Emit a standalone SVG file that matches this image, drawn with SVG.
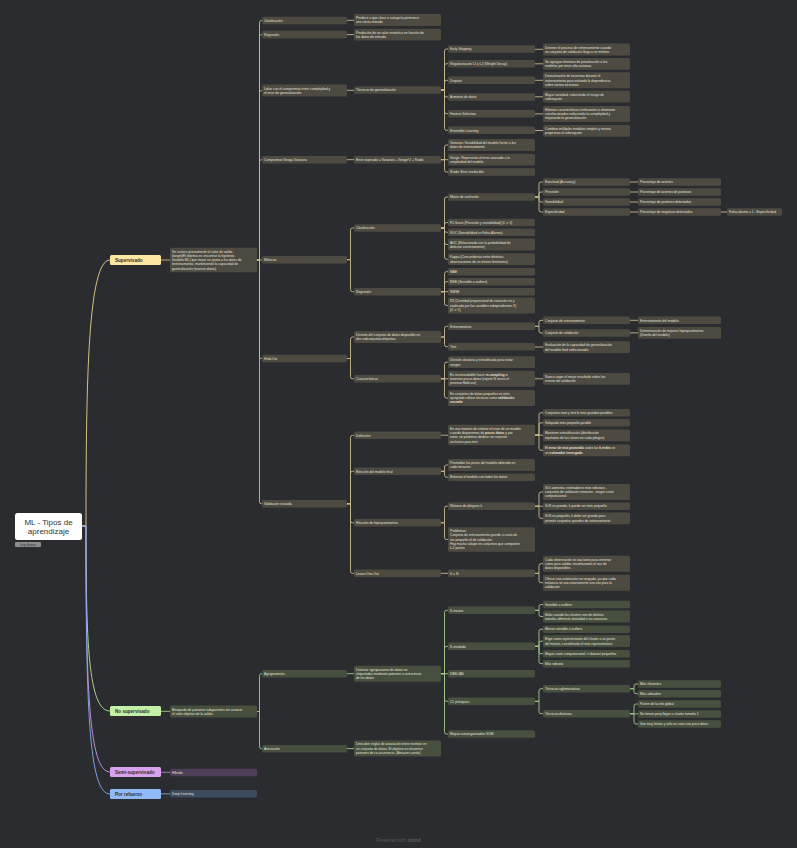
<svg xmlns="http://www.w3.org/2000/svg" width="797" height="848" viewBox="0 0 797 848">
<style>
.t{font-family:"Liberation Sans",Arial,sans-serif;font-size:3.3px;fill:#e7e3d9}
.b{font-weight:bold}
.m{font-family:"Liberation Sans",Arial,sans-serif;font-size:4.6px;font-weight:bold;fill:#2e2e2e}
.c path{fill:none;stroke-width:0.9}
.ys path{stroke:#c9b98b}
.gs path{stroke:#9fc889}
.ny{fill:#4d4a41}
.ng{fill:#47503f}
.np{fill:#4e3f58}
.nb{fill:#3e4a5e}
</style>
<rect width="797" height="848" fill="#2b2c30"/>
<g id="connectors" class="c">
<path d="M82 526H86C86 380 88 260 110 260" stroke="#e9d48f"/>
<path d="M82 526H86C86 640 88 711 110 711" stroke="#b5e39a"/>
<path d="M82 526H86C86 680 88 772 110 772" stroke="#cf95e6"/>
<path d="M82 526H86C86 700 88 794 110 794" stroke="#86acf0"/>
<g class="ys">
<path d="M161 260H170"/>
<path d="M257 260H259.5V22.5Q259.5 20.5 261.5 20.5H262"/>
<path d="M257 260H259.5V36.6Q259.5 34.6 261.5 34.6H262"/>
<path d="M257 260H259.5V92.5Q259.5 90.5 261.5 90.5H262"/>
<path d="M257 260H259.5V161.7Q259.5 159.7 261.5 159.7H262"/>
<path d="M257 260H262"/>
<path d="M257 260H259.5V356.5Q259.5 358.5 261.5 358.5H262"/>
<path d="M257 260H259.5V501.8Q259.5 503.8 261.5 503.8H262"/>
<path d="M347 20.3H354"/>
<path d="M347 34.6H354"/>
<path d="M347 90.3H354"/>
<path d="M347 159.7H354"/>
<path d="M347 259.7H350.5V230Q350.5 228 352.5 228H354"/>
<path d="M347 259.7H350.5V289.7Q350.5 291.7 352.5 291.7H354"/>
<path d="M347 358.5H350.5V339Q350.5 337 352.5 337H354"/>
<path d="M347 358.5H350.5V376.8Q350.5 378.8 352.5 378.8H354"/>
<path d="M347 503.8H350.5V437.3Q350.5 435.3 352.5 435.3H354"/>
<path d="M347 503.8H350.5V473.3Q350.5 471.3 352.5 471.3H354"/>
<path d="M347 503.8H350.5V520.8Q350.5 522.8 352.5 522.8H354"/>
<path d="M347 503.8H350.5V571.3Q350.5 573.3 352.5 573.3H354"/>
<path d="M441 90H444.5V51Q444.5 49 446.5 49H448"/>
<path d="M441 90H444.5V65.7Q444.5 63.7 446.5 63.7H448"/>
<path d="M441 90H444.5V82.3Q444.5 80.3 446.5 80.3H448"/>
<path d="M441 90H444.5V95Q444.5 97 446.5 97H448"/>
<path d="M441 90H444.5V111.7Q444.5 113.7 446.5 113.7H448"/>
<path d="M441 90H444.5V128.3Q444.5 130.3 446.5 130.3H448"/>
<path d="M441 159.7H444.5V147Q444.5 145 446.5 145H448"/>
<path d="M441 159.7H448"/>
<path d="M441 159.7H444.5V170Q444.5 172 446.5 172H448"/>
<path d="M441 228H444.5V199Q444.5 197 446.5 197H448"/>
<path d="M441 228H444.5V224.5Q444.5 222.5 446.5 222.5H448"/>
<path d="M441 228H444.5V230.3Q444.5 232.3 446.5 232.3H448"/>
<path d="M441 228H444.5V242.5Q444.5 244.5 446.5 244.5H448"/>
<path d="M441 228H444.5V257.2Q444.5 259.2 446.5 259.2H448"/>
<path d="M441 291.7H444.5V273.7Q444.5 271.7 446.5 271.7H448"/>
<path d="M441 291.7H444.5V283.7Q444.5 281.7 446.5 281.7H448"/>
<path d="M441 291.7H448"/>
<path d="M441 291.7H444.5V303.5Q444.5 305.5 446.5 305.5H448"/>
<path d="M441 337H444.5V328.3Q444.5 326.3 446.5 326.3H448"/>
<path d="M441 337H444.5V344.7Q444.5 346.7 446.5 346.7H448"/>
<path d="M441 378.8H444.5V364.2Q444.5 362.2 446.5 362.2H448"/>
<path d="M441 378.8H448"/>
<path d="M441 378.8H444.5V396Q444.5 398 446.5 398H448"/>
<path d="M441 435.2H448"/>
<path d="M441 471.3H444.5V467Q444.5 465 446.5 465H448"/>
<path d="M441 471.3H444.5V475.2Q444.5 477.2 446.5 477.2H448"/>
<path d="M441 522.8H444.5V508.2Q444.5 506.2 446.5 506.2H448"/>
<path d="M441 522.8H444.5V537.5Q444.5 539.5 446.5 539.5H448"/>
<path d="M441 573.3H448"/>
<path d="M535 49.3H543"/>
<path d="M535 63.8H543"/>
<path d="M535 80.3H543"/>
<path d="M535 96.8H543"/>
<path d="M535 113.9H543"/>
<path d="M535 130.5H543"/>
<path d="M535 197H539V184Q539 182 541 182H543"/>
<path d="M535 197H539V194Q539 192 541 192H543"/>
<path d="M535 197H539V200Q539 202 541 202H543"/>
<path d="M535 197H539V210Q539 212 541 212H543"/>
<path d="M535 326.3H539V322.3Q539 320.3 541 320.3H543"/>
<path d="M535 326.3H539V331Q539 333 541 333H543"/>
<path d="M535 347H543"/>
<path d="M535 378.8H543"/>
<path d="M535 435H539V414.8Q539 412.8 541 412.8H543"/>
<path d="M535 435H539V424.8Q539 422.8 541 422.8H543"/>
<path d="M535 435.2H543"/>
<path d="M535 435H539V448.3Q539 450.3 541 450.3H543"/>
<path d="M535 506.2H539V494Q539 492 541 492H543"/>
<path d="M535 506.2H543"/>
<path d="M535 506.2H539V516.3Q539 518.3 541 518.3H543"/>
<path d="M535 573.3H539V565.7Q539 563.7 541 563.7H543"/>
<path d="M535 573.3H539V580.7Q539 582.7 541 582.7H543"/>
<path d="M630 182H638"/>
<path d="M630 192H638"/>
<path d="M630 202H638"/>
<path d="M630 212H638"/>
<path d="M630 320.3H638"/>
<path d="M630 332.9H638"/>
<path d="M721 212H727"/>
</g>
<g class="gs">
<path d="M161 711.3H170"/>
<path d="M257 711.5H259.5V675.7Q259.5 673.7 261.5 673.7H262"/>
<path d="M257 711.5H259.5V746.7Q259.5 748.7 261.5 748.7H262"/>
<path d="M347 673.7H354"/>
<path d="M347 748.6H354"/>
<path d="M441 673.7H444.5V612.3Q444.5 610.3 446.5 610.3H448"/>
<path d="M441 673.7H444.5V648.3Q444.5 646.3 446.5 646.3H448"/>
<path d="M441 673.7H448"/>
<path d="M441 673.7H444.5V699.3Q444.5 701.3 446.5 701.3H448"/>
<path d="M441 673.7H444.5V732Q444.5 734 446.5 734H448"/>
<path d="M535 610.3H539V606.5Q539 604.5 541 604.5H543"/>
<path d="M535 610.3H539V614.5Q539 616.5 541 616.5H543"/>
<path d="M535 646.3H539V631.2Q539 629.2 541 629.2H543"/>
<path d="M535 646.3H539V643.2Q539 641.2 541 641.2H543"/>
<path d="M535 646.3H539V651.7Q539 653.7 541 653.7H543"/>
<path d="M535 646.3H539V661.7Q539 663.7 541 663.7H543"/>
<path d="M535 701.3H539V690.7Q539 688.7 541 688.7H543"/>
<path d="M535 701.3H539V711.7Q539 713.7 541 713.7H543"/>
<path d="M630 688.7H634V686Q634 684 636 684H638"/>
<path d="M630 688.7H634V691.7Q634 693.7 636 693.7H638"/>
<path d="M630 713.7H634V706Q634 704 636 704H638"/>
<path d="M630 713.9H638"/>
<path d="M630 713.7H634V722Q634 724 636 724H638"/>
</g>
<path d="M161 772.3H170" stroke="#b17fc6"/>
<path d="M161 793.9H170" stroke="#7c9fdc"/>
</g>

<g id="root">
<rect x="15" y="513" width="67" height="27" rx="2.5" fill="#ffffff"/>
<text x="48.5" y="524.5" text-anchor="middle" style="font-family:'Liberation Sans',Arial,sans-serif;font-size:8px;fill:#333">ML - Tipos de</text>
<text x="48.5" y="534" text-anchor="middle" style="font-family:'Liberation Sans',Arial,sans-serif;font-size:8px;fill:#333">aprendizaje</text>
</g>
<g id="root-tag">
<rect x="15" y="542" width="26" height="5" rx="1" fill="#8d8d8d"/>
<text x="28" y="545.6" text-anchor="middle" style="font-family:'Liberation Sans',Arial,sans-serif;font-size:2.6px;fill:#2e2e2e">Jorge Barbeta</text>
</g>

<g id="supervisado"><rect x="110" y="255" width="51" height="10" rx="1.5" fill="#fbe6a2"/><text class="m" x="115" y="261.7">Supervisado</text></g>
<g id="no-supervisado"><rect x="110" y="706" width="51" height="10" rx="1.5" fill="#c3f0a5"/><text class="m" x="115" y="712.7">No supervisado</text></g>
<g id="semi-supervisado"><rect x="110" y="767" width="51" height="10" rx="1.5" fill="#d7a1ee"/><text class="m" x="115" y="773.7">Semi-supervisado</text></g>
<g id="por-refuerzo"><rect x="110" y="789" width="51" height="10" rx="1.5" fill="#91b9f6"/><text class="m" x="115" y="795.7">Por refuerzo</text></g>

<!-- Supervisado subtree -->
<g id="s0"><rect class="ny" x="170" y="247.7" width="87" height="24.6" rx="1.5"/><text class="t"><tspan x="172" y="252.7">Se conoce previamente el valor de salida</tspan><tspan x="172" y="256.95">(target)El objetivo es encontrar la hipótesis</tspan><tspan x="172" y="261.2">(modelo ML) que mejor se ajusta a los datos de</tspan><tspan x="172" y="265.45">entrenamiento, manteniendo la capacidad de</tspan><tspan x="172" y="269.7">generalización (nuevos datos)</tspan></text></g>

<g id="s-clasificacion"><rect class="ny" x="262" y="16.7" width="85" height="7.6" rx="1.5"/><text class="t" x="264" y="21.7">Clasificación</text></g>
<g id="s-regresion"><rect class="ny" x="262" y="30.8" width="85" height="7.6" rx="1.5"/><text class="t" x="264" y="35.8">Regresión</text></g>
<g id="s-lidiar"><rect class="ny" x="262" y="84.6" width="85" height="11.8" rx="1.5"/><text class="t"><tspan x="264" y="89.6">Lidiar con el compromiso entre complejidad y</tspan><tspan x="264" y="93.8">el error de generalización</tspan></text></g>
<g id="s-sesgo-varianza"><rect class="ny" x="262" y="155.9" width="85" height="7.6" rx="1.5"/><text class="t" x="264" y="160.9">Compromiso Sesgo-Varianza</text></g>
<g id="s-metricas"><rect class="ny" x="262" y="255.9" width="85" height="7.6" rx="1.5"/><text class="t" x="264" y="260.9">Métricas</text></g>
<g id="s-holdout"><rect class="ny" x="262" y="354.7" width="85" height="7.6" rx="1.5"/><text class="t" x="264" y="359.7">Hold-Out</text></g>
<g id="s-validacion-cruzada"><rect class="ny" x="262" y="500" width="85" height="7.6" rx="1.5"/><text class="t" x="264" y="505">Validación cruzada</text></g>

<g id="s-predecir"><rect class="ny" x="354" y="14.1" width="87" height="11.8" rx="1.5"/><text class="t"><tspan x="356" y="19.1">Predecir a que clase o categoría pertenece</tspan><tspan x="356" y="23.3">una cierta entrada</tspan></text></g>
<g id="s-prediccion"><rect class="ny" x="354" y="28.8" width="87" height="11.8" rx="1.5"/><text class="t"><tspan x="356" y="33.8">Predicción de un valor numérico en función de</tspan><tspan x="356" y="38">los datos de entrada</tspan></text></g>
<g id="s-tecnicas"><rect class="ny" x="354" y="86.2" width="87" height="7.6" rx="1.5"/><text class="t" x="356" y="91.2">Técnicas de generalización</text></g>
<g id="s-error-esperado"><rect class="ny" x="354" y="155.9" width="87" height="7.6" rx="1.5"/><text class="t" x="356" y="160.9">Error esperado = Varianza + Sesgo^2 + Ruido</text></g>
<g id="s-m-clasificacion"><rect class="ny" x="354" y="224.2" width="87" height="7.6" rx="1.5"/><text class="t" x="356" y="229.2">Clasificación</text></g>
<g id="s-m-regresion"><rect class="ny" x="354" y="287.9" width="87" height="7.6" rx="1.5"/><text class="t" x="356" y="292.9">Regresión</text></g>
<g id="s-division"><rect class="ny" x="354" y="331.1" width="87" height="11.8" rx="1.5"/><text class="t"><tspan x="356" y="336.1">División del conjunto de datos disponible en</tspan><tspan x="356" y="340.3">dos subconjuntos disjuntos</tspan></text></g>
<g id="s-caracteristicas"><rect class="ny" x="354" y="375" width="87" height="7.6" rx="1.5"/><text class="t" x="356" y="380">Características</text></g>
<g id="s-definicion"><rect class="ny" x="354" y="431.5" width="87" height="7.6" rx="1.5"/><text class="t" x="356" y="436.5">Definición</text></g>
<g id="s-eleccion-modelo"><rect class="ny" x="354" y="467.5" width="87" height="7.6" rx="1.5"/><text class="t" x="356" y="472.5">Elección del modelo final</text></g>
<g id="s-eleccion-hiper"><rect class="ny" x="354" y="519" width="87" height="7.6" rx="1.5"/><text class="t" x="356" y="524">Elección de hiperparámetros</text></g>
<g id="s-loo"><rect class="ny" x="354" y="569.5" width="87" height="7.6" rx="1.5"/><text class="t" x="356" y="574.5">Leave-One-Out</text></g>

<g id="s-early"><rect class="ny" x="448" y="45.2" width="87" height="7.6" rx="1.5"/><text class="t" x="450" y="50.2">Early Stopping</text></g>
<g id="s-regularizacion"><rect class="ny" x="448" y="59.9" width="87" height="7.6" rx="1.5"/><text class="t" x="450" y="64.9">Regularización L1 y L2 (Weight Decay)</text></g>
<g id="s-dropout"><rect class="ny" x="448" y="76.5" width="87" height="7.6" rx="1.5"/><text class="t" x="450" y="81.5">Dropout</text></g>
<g id="s-aumento"><rect class="ny" x="448" y="93.2" width="87" height="7.6" rx="1.5"/><text class="t" x="450" y="98.2">Aumento de datos</text></g>
<g id="s-feature"><rect class="ny" x="448" y="109.9" width="87" height="7.6" rx="1.5"/><text class="t" x="450" y="114.9">Feature Selection</text></g>
<g id="s-ensemble"><rect class="ny" x="448" y="126.5" width="87" height="7.6" rx="1.5"/><text class="t" x="450" y="131.5">Ensemble Learning</text></g>
<g id="s-varianza"><rect class="ny" x="448" y="139.1" width="87" height="11.8" rx="1.5"/><text class="t"><tspan x="450" y="144.1">Varianza: Variabilidad del modelo frente a los</tspan><tspan x="450" y="148.3">datos de entrenamiento</tspan></text></g>
<g id="s-sesgo"><rect class="ny" x="448" y="153.8" width="87" height="11.8" rx="1.5"/><text class="t"><tspan x="450" y="158.8">Sesgo: Representa el error asociado a la</tspan><tspan x="450" y="163">simplicidad del modelo</tspan></text></g>
<g id="s-ruido"><rect class="ny" x="448" y="168.2" width="87" height="7.6" rx="1.5"/><text class="t" x="450" y="173.2">Ruido: Error irreducible</text></g>
<g id="s-matriz"><rect class="ny" x="448" y="193.2" width="87" height="7.6" rx="1.5"/><text class="t" x="450" y="198.2">Matriz de confusión</text></g>
<g id="s-f1"><rect class="ny" x="448" y="218.7" width="87" height="7.6" rx="1.5"/><text class="t" x="450" y="223.7">F1-Score (Precisión y sensibilidad) [0 -&gt; 1]</text></g>
<g id="s-roc"><rect class="ny" x="448" y="228.5" width="87" height="7.6" rx="1.5"/><text class="t" x="450" y="233.5">ROC (Sensibilidad vs Falsa Alarma)</text></g>
<g id="s-auc"><rect class="ny" x="448" y="238.6" width="87" height="11.8" rx="1.5"/><text class="t"><tspan x="450" y="243.6">AUC (Relacionado con la probabilidad de</tspan><tspan x="450" y="247.8">detectar correctamente)</tspan></text></g>
<g id="s-kappa"><rect class="ny" x="448" y="253.3" width="87" height="11.8" rx="1.5"/><text class="t"><tspan x="450" y="258.3">Kappa (Concordancia entre distintas</tspan><tspan x="450" y="262.5">observaciones de un mismo fenómeno)</tspan></text></g>
<g id="s-mae"><rect class="ny" x="448" y="267.9" width="87" height="7.6" rx="1.5"/><text class="t" x="450" y="272.9">MAE</text></g>
<g id="s-mse"><rect class="ny" x="448" y="277.9" width="87" height="7.6" rx="1.5"/><text class="t" x="450" y="282.9">MSE (Sensible a outliers)</text></g>
<g id="s-rmse"><rect class="ny" x="448" y="287.9" width="87" height="7.6" rx="1.5"/><text class="t" x="450" y="292.9">RMSE</text></g>
<g id="s-r2"><rect class="ny" x="448" y="297.5" width="87" height="16" rx="1.5"/><text class="t"><tspan x="450" y="302.45">R2 (Cantidad proporcional de variación en y</tspan><tspan x="450" y="306.7">explicada por las variables independientes X)</tspan><tspan x="450" y="310.95">[0 -&gt; 1]</tspan></text></g>
<g id="s-entrenamiento"><rect class="ny" x="448" y="322.5" width="87" height="7.6" rx="1.5"/><text class="t" x="450" y="327.5">Entrenamiento</text></g>
<g id="s-test"><rect class="ny" x="448" y="342.9" width="87" height="7.6" rx="1.5"/><text class="t" x="450" y="347.9">Test</text></g>
<g id="s-division-aleatoria"><rect class="ny" x="448" y="356.3" width="87" height="11.8" rx="1.5"/><text class="t"><tspan x="450" y="361.3">División aleatoria y estratificada para evitar</tspan><tspan x="450" y="365.5">sesgos</tspan></text></g>
<g id="s-resampling"><rect class="ny" x="448" y="370.7" width="87" height="16" rx="1.5"/><text class="t"><tspan x="450" y="375.65">Es recomendable hacer <tspan class="b">re-sampling</tspan> si</tspan><tspan x="450" y="379.9">tenemos pocos datos (repetir N veces el</tspan><tspan x="450" y="384.15">proceso Hold-out)</tspan></text></g>
<g id="s-pequenos"><rect class="ny" x="448" y="390" width="87" height="16" rx="1.5"/><text class="t"><tspan x="450" y="394.95">En conjuntos de datos pequeños es más</tspan><tspan x="450" y="399.2">apropiado utilizar técnicas como <tspan class="b">validación</tspan></tspan><tspan x="450" y="403.45" class="b">cruzada</tspan></text></g>
<g id="s-manera"><rect class="ny" x="448" y="424.85" width="87" height="20.3" rx="1.5"/><text class="t"><tspan x="450" y="429.8">Es una manera de estimar el error de un modelo</tspan><tspan x="450" y="434.05">cuando disponemos de <tspan class="b">pocos datos</tspan> y por</tspan><tspan x="450" y="438.3">tanto, no podemos dedicar un conjunto</tspan><tspan x="450" y="442.55">exclusivo para test</tspan></text></g>
<g id="s-promediar"><rect class="ny" x="448" y="459.1" width="87" height="11.8" rx="1.5"/><text class="t"><tspan x="450" y="464.1">Promediar los pesos del modelo obtenido en</tspan><tspan x="450" y="468.3">cada iteración</tspan></text></g>
<g id="s-entrenar"><rect class="ny" x="448" y="473.4" width="87" height="7.6" rx="1.5"/><text class="t" x="450" y="478.4">Entrenar el modelo con todos los datos</text></g>
<g id="s-pliegues"><rect class="ny" x="448" y="502.4" width="87" height="7.6" rx="1.5"/><text class="t" x="450" y="507.4">Número de pliegues k</text></g>
<g id="s-problemas"><rect class="ny" x="448" y="527.2" width="87" height="24.6" rx="1.5"/><text class="t"><tspan x="450" y="532.2">Problemas:</tspan><tspan x="450" y="536.45">Conjunto de entrenamiento grande a costa de</tspan><tspan x="450" y="540.7">ser pequeño el de validación</tspan><tspan x="450" y="544.95">Hay mucho solape en conjuntos que comparten</tspan><tspan x="450" y="549.2">k-2 partes</tspan></text></g>
<g id="s-kn"><rect class="ny" x="448" y="569.5" width="87" height="7.6" rx="1.5"/><text class="t" x="450" y="574.5">K = N</text></g>

<g id="s-detener"><rect class="ny" x="543" y="43.6" width="87" height="11.8" rx="1.5"/><text class="t"><tspan x="545" y="48.6">Detener el proceso de entrenamiento cuando</tspan><tspan x="545" y="52.8">un conjunto de validación llega a un mínimo</tspan></text></g>
<g id="s-agregan"><rect class="ny" x="543" y="57.9" width="87" height="11.8" rx="1.5"/><text class="t"><tspan x="545" y="62.9">Se agregan términos de penalización a los</tspan><tspan x="545" y="67.1">modelos por tener alta varianza</tspan></text></g>
<g id="s-desactivacion"><rect class="ny" x="543" y="72.3" width="87" height="16" rx="1.5"/><text class="t"><tspan x="545" y="77.25">Desactivación de neuronas durante el</tspan><tspan x="545" y="81.5">entrenamiento para evitando la dependencia</tspan><tspan x="545" y="85.75">sobre ciertas neuronas</tspan></text></g>
<g id="s-variedad"><rect class="ny" x="543" y="90.8" width="87" height="11.8" rx="1.5"/><text class="t"><tspan x="545" y="95.8">Mayor variedad, reduciendo el riesgo de</tspan><tspan x="545" y="100">sobreajuste</tspan></text></g>
<g id="s-eliminar"><rect class="ny" x="543" y="106" width="87" height="16" rx="1.5"/><text class="t"><tspan x="545" y="110.95">Eliminar características irrelevantes o altamente</tspan><tspan x="545" y="115.2">correlacionadas reduciendo la complejidad y</tspan><tspan x="545" y="119.45">mejorando la generalización</tspan></text></g>
<g id="s-combina"><rect class="ny" x="543" y="124.9" width="87" height="11.8" rx="1.5"/><text class="t"><tspan x="545" y="129.9">Combina múltiples modelos simples y menos</tspan><tspan x="545" y="134.1">propensos al sobreajuste</tspan></text></g>
<g id="s-exactitud"><rect class="ny" x="543" y="178.2" width="87" height="7.6" rx="1.5"/><text class="t" x="545" y="183.2">Exactitud (Accuracy)</text></g>
<g id="s-precision"><rect class="ny" x="543" y="188.2" width="87" height="7.6" rx="1.5"/><text class="t" x="545" y="193.2">Precisión</text></g>
<g id="s-sensibilidad"><rect class="ny" x="543" y="198.2" width="87" height="7.6" rx="1.5"/><text class="t" x="545" y="203.2">Sensibilidad</text></g>
<g id="s-especificidad"><rect class="ny" x="543" y="208.2" width="87" height="7.6" rx="1.5"/><text class="t" x="545" y="213.2">Especificidad</text></g>
<g id="s-conj-entrenamiento"><rect class="ny" x="543" y="316.5" width="87" height="7.6" rx="1.5"/><text class="t" x="545" y="321.5">Conjunto de entrenamiento</text></g>
<g id="s-conj-validacion"><rect class="ny" x="543" y="329.2" width="87" height="7.6" rx="1.5"/><text class="t" x="545" y="334.2">Conjunto de validación</text></g>
<g id="s-evaluacion"><rect class="ny" x="543" y="341.3" width="87" height="11.8" rx="1.5"/><text class="t"><tspan x="545" y="346.3">Evaluación de la capacidad de generalización</tspan><tspan x="545" y="350.5">del modelo final seleccionado</tspan></text></g>
<g id="s-nunca"><rect class="ny" x="543" y="372.9" width="87" height="11.8" rx="1.5"/><text class="t"><tspan x="545" y="377.9">Nunca coger el mejor resultado sobre los</tspan><tspan x="545" y="382.1">errores de validación</tspan></text></g>
<g id="s-conjuntos-train"><rect class="ny" x="543" y="409" width="87" height="7.6" rx="1.5"/><text class="t" x="545" y="414">Conjuntos train y test lo más grandes posibles</text></g>
<g id="s-solapado"><rect class="ny" x="543" y="419" width="87" height="7.6" rx="1.5"/><text class="t" x="545" y="424">Solapado más pequeño posible</text></g>
<g id="s-mantener"><rect class="ny" x="543" y="429.4" width="87" height="11.8" rx="1.5"/><text class="t"><tspan x="545" y="434.4">Mantener estratificación (distribución</tspan><tspan x="545" y="438.6">equitativa de las clases en cada pliegue)</tspan></text></g>
<g id="s-error-test"><rect class="ny" x="543" y="444.4" width="87" height="11.8" rx="1.5"/><text class="t"><tspan x="545" y="449.4">El <tspan class="b">error de test promedio</tspan> sobre las <tspan class="b">k redes</tspan> es</tspan><tspan x="545" y="453.6">un <tspan class="b">estimador insesgado</tspan></tspan></text></g>
<g id="s-k-aumenta"><rect class="ny" x="543" y="484" width="87" height="16" rx="1.5"/><text class="t"><tspan x="545" y="488.95">Si k aumenta: estimadores más robustos ,</tspan><tspan x="545" y="493.2">conjuntos de validación menores , mayor coste</tspan><tspan x="545" y="497.45">computacional</tspan></text></g>
<g id="s-n-grande"><rect class="ny" x="543" y="502.4" width="87" height="7.6" rx="1.5"/><text class="t" x="545" y="507.4">Si N es grande, k puede ser más pequeño</text></g>
<g id="s-n-pequeno"><rect class="ny" x="543" y="512.4" width="87" height="11.8" rx="1.5"/><text class="t"><tspan x="545" y="517.4">Si N es pequeño, k debe ser grande para</tspan><tspan x="545" y="521.6">permitir conjuntos grandes de entrenamiento</tspan></text></g>
<g id="s-cada-obs"><rect class="ny" x="543" y="555.7" width="87" height="16" rx="1.5"/><text class="t"><tspan x="545" y="560.65">Cada observación se usa tanto para entrenar</tspan><tspan x="545" y="564.9">como para validar, maximizando el uso de</tspan><tspan x="545" y="569.15">datos disponibles</tspan></text></g>
<g id="s-ofrece"><rect class="ny" x="543" y="574.7" width="87" height="16" rx="1.5"/><text class="t"><tspan x="545" y="579.65">Ofrece una estimación no sesgada, ya que cada</tspan><tspan x="545" y="583.9">instancia se usa exactamente una vez para la</tspan><tspan x="545" y="588.15">validación</tspan></text></g>

<g id="s-pct-aciertos"><rect class="ny" x="638" y="178.2" width="83" height="7.6" rx="1.5"/><text class="t" x="640" y="183.2">Porcentaje de aciertos</text></g>
<g id="s-pct-positivos"><rect class="ny" x="638" y="188.2" width="83" height="7.6" rx="1.5"/><text class="t" x="640" y="193.2">Porcentaje de aciertos de positivos</text></g>
<g id="s-pct-pos-det"><rect class="ny" x="638" y="198.2" width="83" height="7.6" rx="1.5"/><text class="t" x="640" y="203.2">Porcentaje de positivos detectados</text></g>
<g id="s-pct-neg-det"><rect class="ny" x="638" y="208.2" width="83" height="7.6" rx="1.5"/><text class="t" x="640" y="213.2">Porcentaje de negativos detectados</text></g>
<g id="s-entrenamiento-modelo"><rect class="ny" x="638" y="316.5" width="83" height="7.6" rx="1.5"/><text class="t" x="640" y="321.5">Entrenamiento del modelo</text></g>
<g id="s-determinacion"><rect class="ny" x="638" y="326.9" width="83" height="11.8" rx="1.5"/><text class="t"><tspan x="640" y="331.9">Determinación de mejores hiperparámetros</tspan><tspan x="640" y="336.1">(Diseño del modelo)</tspan></text></g>
<g id="s-falsa-alarma"><rect class="ny" x="727" y="208.2" width="55" height="7.6" rx="1.5"/><text class="t" x="729" y="213.2">Falsa alarma = 1 - Especificidad</text></g>

<!-- No supervisado subtree -->
<g id="u-busqueda"><rect class="ng" x="170" y="705.6" width="87" height="11.8" rx="1.5"/><text class="t"><tspan x="172" y="710.6">Búsqueda de patrones subyacentes sin conocer</tspan><tspan x="172" y="714.8">el valor objetivo de la salida</tspan></text></g>
<g id="u-agrupamiento"><rect class="ng" x="262" y="669.9" width="85" height="7.6" rx="1.5"/><text class="t" x="264" y="674.9">Agrupamiento</text></g>
<g id="u-asociacion"><rect class="ng" x="262" y="744.9" width="85" height="7.6" rx="1.5"/><text class="t" x="264" y="749.9">Asociación</text></g>
<g id="u-detectar"><rect class="ng" x="354" y="665.7" width="87" height="16" rx="1.5"/><text class="t"><tspan x="356" y="670.65">Detectar agrupaciones de datos no</tspan><tspan x="356" y="674.9">etiquetados mediante patrones o estructuras</tspan><tspan x="356" y="679.15">de los datos</tspan></text></g>
<g id="u-descubrir"><rect class="ng" x="354" y="740.5" width="87" height="16" rx="1.5"/><text class="t"><tspan x="356" y="745.45">Descubrir reglas de asociación entre eventos en</tspan><tspan x="356" y="749.7">un conjunto de datos. El objetivo es encontrar</tspan><tspan x="356" y="753.95">patrones de co-ocurrencia. (Amazon carrito)</tspan></text></g>
<g id="u-kmeans"><rect class="ng" x="448" y="606.5" width="87" height="7.6" rx="1.5"/><text class="t" x="450" y="611.5">K-means</text></g>
<g id="u-kmedoids"><rect class="ng" x="448" y="642.5" width="87" height="7.6" rx="1.5"/><text class="t" x="450" y="647.5">K-medoids</text></g>
<g id="u-dbscan"><rect class="ng" x="448" y="669.9" width="87" height="7.6" rx="1.5"/><text class="t" x="450" y="674.9">DBSCAN</text></g>
<g id="u-jerarquico"><rect class="ng" x="448" y="697.5" width="87" height="7.6" rx="1.5"/><text class="t" x="450" y="702.5">Cl. jerárquico</text></g>
<g id="u-som"><rect class="ng" x="448" y="730.2" width="87" height="7.6" rx="1.5"/><text class="t" x="450" y="735.2">Mapas autoorganizados SOM</text></g>
<g id="u-sensible"><rect class="ng" x="543" y="600.7" width="87" height="7.6" rx="1.5"/><text class="t" x="545" y="605.7">Sensible a outliers</text></g>
<g id="u-malo"><rect class="ng" x="543" y="610.6" width="87" height="11.8" rx="1.5"/><text class="t"><tspan x="545" y="615.6">Malo cuando los clusters son de distinto</tspan><tspan x="545" y="619.8">tamaño, diferente densidad o no convexos</tspan></text></g>
<g id="u-menos-sensible"><rect class="ng" x="543" y="625.4" width="87" height="7.6" rx="1.5"/><text class="t" x="545" y="630.4">Menos sensible a outliers</text></g>
<g id="u-elige"><rect class="ng" x="543" y="635.3" width="87" height="11.8" rx="1.5"/><text class="t"><tspan x="545" y="640.3">Elige como representante del cluster a un punto</tspan><tspan x="545" y="644.5">del mismo, considerado el más representativo</tspan></text></g>
<g id="u-mayor-coste"><rect class="ng" x="543" y="649.9" width="87" height="7.6" rx="1.5"/><text class="t" x="545" y="654.9">Mayor coste computacional -&gt; dataset pequeños</text></g>
<g id="u-robusto"><rect class="ng" x="543" y="659.9" width="87" height="7.6" rx="1.5"/><text class="t" x="545" y="664.9">Más robusto</text></g>
<g id="u-aglomerativas"><rect class="ng" x="543" y="684.9" width="87" height="7.6" rx="1.5"/><text class="t" x="545" y="689.9">Técnicas aglomerativas</text></g>
<g id="u-divisivas"><rect class="ng" x="543" y="709.9" width="87" height="7.6" rx="1.5"/><text class="t" x="545" y="714.9">Técnicas divisivas</text></g>
<g id="u-eficientes"><rect class="ng" x="638" y="680.2" width="83" height="7.6" rx="1.5"/><text class="t" x="640" y="685.2">Más eficientes</text></g>
<g id="u-utilizados"><rect class="ng" x="638" y="689.9" width="83" height="7.6" rx="1.5"/><text class="t" x="640" y="694.9">Más utilizados</text></g>
<g id="u-parten"><rect class="ng" x="638" y="700.2" width="83" height="7.6" rx="1.5"/><text class="t" x="640" y="705.2">Parten de la info global</text></g>
<g id="u-no-tienen"><rect class="ng" x="638" y="710.2" width="83" height="7.6" rx="1.5"/><text class="t" x="640" y="715.2">No tienen porq llegar a cluster tamaño 1</text></g>
<g id="u-lentos"><rect class="ng" x="638" y="720.2" width="83" height="7.6" rx="1.5"/><text class="t" x="640" y="725.2">Son muy lentos y solo se usan con poco datos</text></g>

<g id="semi-hibrido"><rect class="np" x="170" y="768.7" width="87" height="7.6" rx="1.5"/><text class="t" x="172" y="773.7">Híbrido</text></g>
<g id="refuerzo-deep"><rect class="nb" x="170" y="790" width="87" height="7.6" rx="1.5"/><text class="t" x="172" y="795">Deep Learning</text></g>

<text x="398.5" y="841.5" text-anchor="middle" style="font-family:'Liberation Sans',Arial,sans-serif;font-size:4.5px;fill:#5c5d61">Presented with <tspan font-weight="bold">xmind</tspan></text>
</svg>
